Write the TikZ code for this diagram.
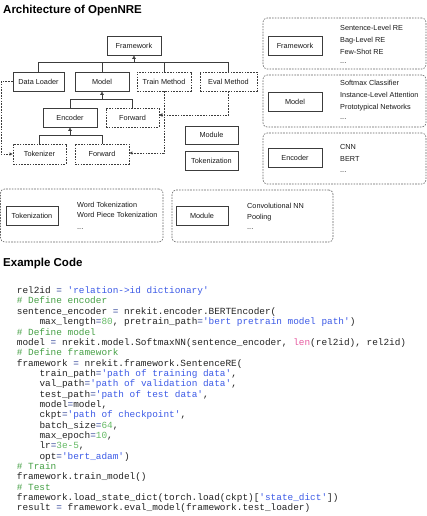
\documentclass[tikz,border=0pt]{standalone}
\usepackage{fontspec}
\setmainfont{Liberation Sans}
\setmonofont{Liberation Mono}
\usetikzlibrary{arrows.meta}
\definecolor{boxc}{RGB}{60,60,60}
\definecolor{panc}{RGB}{100,100,100}
\definecolor{textc}{RGB}{25,25,25}
\definecolor{codec}{RGB}{35,35,35}
\definecolor{strc}{RGB}{60,90,230}
\definecolor{comc}{RGB}{70,160,70}
\definecolor{numc}{RGB}{100,185,100}
\definecolor{kwc}{RGB}{230,90,160}
\definecolor{eqc}{RGB}{45,65,150}
\newcommand\codestr[1]{\textcolor{strc}{#1}}
\newcommand\codecom[1]{\textcolor{comc}{#1}}
\newcommand\codenum[1]{\textcolor{numc}{#1}}
\newcommand\codekw[1]{\textcolor{kwc}{#1}}
\newcommand\codeeq[1]{\textcolor{eqc}{#1}}
\tikzset{
  smallfont/.style={font=\fontsize{7.3}{8.5}\selectfont},
  box/.style={draw=boxc, line width=0.8pt, minimum width=54pt, minimum height=19pt,
    inner sep=0pt, smallfont, text=textc},
  dbox/.style={box, dash pattern=on 1.6pt off 1.2pt},
  panel/.style={draw=panc, line width=0.6pt, dash pattern=on 1.6pt off 1.2pt,
    rounded corners=4pt, inner sep=0pt},
  lbl/.style={anchor=base west, inner sep=0pt, smallfont, text=textc},
  ttl/.style={anchor=base west, inner sep=0pt, font=\bfseries\fontsize{11.5}{13}\selectfont, text=black},
  code/.style={anchor=base west, inner sep=0pt, font=\ttfamily\fontsize{9.4}{10}\selectfont, text=codec},
  conn/.style={draw=boxc, line width=0.8pt},
  inh/.style={conn, -{Triangle[open,length=3.5pt,width=3.5pt]}},
  darr/.style={conn, dash pattern=on 1.6pt off 1.2pt, -{Triangle[open,length=3pt,width=3pt]}},
}
\begin{document}
\begin{tikzpicture}[x=1pt,y=-1pt]
\useasboundingbox (0,0) rectangle (427,516);
% titles
\node[ttl] (t1) at (3,14) {Architecture of OpenNRE};
\node[ttl] (t2) at (3,266.7) {Example Code};
% architecture boxes
\node[box]  (fw)   at (134,45.5)  {Framework};
\node[box, minimum width=51pt] (dl) at (38.5,81.5) {Data Loader};
\node[box]  (md)   at (102,81.5)  {Model};
\node[dbox] (tm)   at (164,81.5)  {Train Method};
\node[dbox, minimum width=57pt] (em) at (228.5,81.5) {Eval Method};
\node[box]  (enc)  at (70,117.5)  {Encoder};
\node[dbox, minimum width=53pt] (fwd1) at (132.5,117.5) {Forward};
\node[dbox, minimum width=53pt, minimum height=20pt] (tok) at (39.5,154) {Tokenizer};
\node[dbox, minimum height=20pt] (fwd2) at (102,154) {Forward};
\node[box, minimum width=53pt, minimum height=18pt] (mod) at (211.5,135) {Module};
\node[box, minimum width=53pt] (tkz) at (211.5,160.5) {Tokenization};
% buses
\coordinate (b1) at (0,62.7);
\coordinate (b2) at (0,99.3);
\coordinate (b3) at (0,135);
\draw[conn] (dl.north) -- (dl.north |- b1) -- (em.north |- b1) -- (em.north);
\draw[conn] (md.north) -- (md.north |- b1);
\draw[conn] (tm.north) -- (tm.north |- b1);
\draw[inh] (fw.south |- b1) -- (fw.south);
\draw[conn] (enc.north) -- (enc.north |- b2) -- (fwd1.north |- b2) -- (fwd1.north);
\draw[inh] (md.south |- b2) -- (md.south);
\draw[conn] (tok.north) -- (tok.north |- b3) -- (fwd2.north |- b3) -- (fwd2.north);
\draw[inh] (enc.south |- b3) -- (enc.south);
% dashed links
\coordinate (lft) at (1,0);
\draw[darr] (dl.west) -- (dl.west -| lft) |- (tok.west);
\draw[darr] (tm.south) |- ([yshift=2.5pt]fwd1.east);
\draw[darr] (em.south) |- ([yshift=2.5pt]fwd1.east);
\draw[darr] (tm.south) |- ([yshift=1pt]fwd2.east);
% right panels
\node[panel, minimum width=163pt, minimum height=51pt] (p1) at (344.5,43.5) {};
\node[box] (pfw) at (295,45.5) {Framework};
\node[lbl] (p1a) at (340,30.6) {Sentence-Level RE};
\node[lbl] (p1b) at (340,42.6) {Bag-Level RE};
\node[lbl] (p1c) at (340,54.3) {Few-Shot RE};
\node[lbl] (p1d) at (340,63.6) {...};
\node[panel, minimum width=163pt, minimum height=52pt] (p2) at (344.5,101) {};
\node[box] (pmd) at (295,102) {Model};
\node[lbl] (p2a) at (340,85.9) {Softmax Classifier};
\node[lbl] (p2b) at (340,97.9) {Instance-Level Attention};
\node[lbl] (p2c) at (340,109.3) {Prototypical Networks};
\node[lbl] (p2d) at (340,119) {...};
\node[panel, minimum width=163pt, minimum height=51pt] (p3) at (344.5,158.5) {};
\node[box] (penc) at (295,157.5) {Encoder};
\node[lbl] (p3a) at (340,149.3) {CNN};
\node[lbl] (p3b) at (340,161.3) {BERT};
\node[lbl] (p3c) at (340,172.6) {...};
% bottom panels
\node[panel, minimum width=162.5pt, minimum height=53pt] (p4) at (81.75,215.5) {};
\node[box, minimum width=52pt] (ptk) at (32,215.5) {Tokenization};
\node[lbl] (p4a) at (77,207.6) {Word Tokenization};
\node[lbl] (p4b) at (77,217.6) {Word Piece Tokenization};
\node[lbl] (p4c) at (77,229) {...};
\node[panel, minimum width=161pt, minimum height=52pt] (p5) at (252.5,216) {};
\node[box, minimum width=52pt] (pmo) at (202,215.5) {Module};
\node[lbl] (p5a) at (247,208.3) {Convolutional NN};
\node[lbl] (p5b) at (247,219.3) {Pooling};
\node[lbl] (p5c) at (247,229) {...};
% code
\def\cx{16.7}
\def\ci{39.3}
\node[code] (c1)  at (\cx,293.6)  {rel2id \codeeq{=} \codestr{'relation->id dictionary'}};
\node[code] (c2)  at (\cx,303.95) {\codecom{\# Define encoder}};
\node[code] (c3)  at (\cx,314.3)  {sentence\_encoder \codeeq{=} nrekit.encoder.BERTEncoder(};
\node[code] (c4)  at (\ci,324.65) {max\_length\codeeq{=}\codenum{80}, pretrain\_path\codeeq{=}\codestr{'bert pretrain model path'})};
\node[code] (c5)  at (\cx,335.0)  {\codecom{\# Define model}};
\node[code] (c6)  at (\cx,345.35) {model \codeeq{=} nrekit.model.SoftmaxNN(sentence\_encoder, \codekw{len}(rel2id), rel2id)};
\node[code] (c7)  at (\cx,355.7)  {\codecom{\# Define framework}};
\node[code] (c8)  at (\cx,366.05) {framework \codeeq{=} nrekit.framework.SentenceRE(};
\node[code] (c9)  at (\ci,376.4)  {train\_path\codeeq{=}\codestr{'path of training data'},};
\node[code] (c10) at (\ci,386.75) {val\_path\codeeq{=}\codestr{'path of validation data'},};
\node[code] (c11) at (\ci,397.1)  {test\_path\codeeq{=}\codestr{'path of test data'},};
\node[code] (c12) at (\ci,407.45) {model\codeeq{=}model,};
\node[code] (c13) at (\ci,417.8)  {ckpt\codeeq{=}\codestr{'path of checkpoint'},};
\node[code] (c14) at (\ci,428.15) {batch\_size\codeeq{=}\codenum{64},};
\node[code] (c15) at (\ci,438.5)  {max\_epoch\codeeq{=}\codenum{10},};
\node[code] (c16) at (\ci,448.85) {lr\codeeq{=}\codenum{3e-5},};
\node[code] (c17) at (\ci,459.2)  {opt\codeeq{=}\codestr{'bert\_adam'})};
\node[code] (c18) at (\cx,469.55) {\codecom{\# Train}};
\node[code] (c19) at (\cx,479.9)  {framework.train\_model()};
\node[code] (c20) at (\cx,490.25) {\codecom{\# Test}};
\node[code] (c21) at (\cx,500.6)  {framework.load\_state\_dict(torch.load(ckpt)[\codestr{'state\_dict'}])};
\node[code] (c22) at (\cx,510.95) {result \codeeq{=} framework.eval\_model(framework.test\_loader)};
\end{tikzpicture}
\end{document}
